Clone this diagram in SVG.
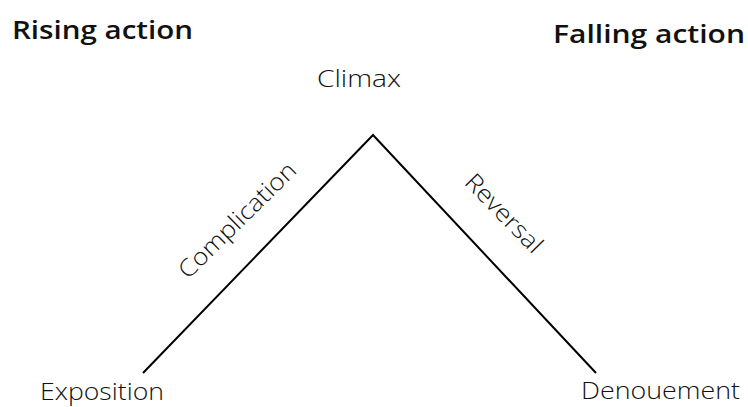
<svg xmlns="http://www.w3.org/2000/svg" width="748" height="407" viewBox="0 0 748 407">
<style>
.head{font-family:"Open Sans","DejaVu Sans",sans-serif;font-weight:600;font-size:25px;fill:#111}
.lbl{font-family:"Open Sans","DejaVu Sans",sans-serif;font-weight:300;font-size:24px;fill:#111}
.edge{fill:none;stroke:#000;stroke-width:2}
</style>
<rect width="748" height="407" fill="#fff"/>
<g id="connectors">
<polyline class="edge" points="143,373 373,135 596,373"/>
</g>
<g id="rising-action"><text class="head" x="12" y="39" textLength="181" lengthAdjust="spacingAndGlyphs">Rising action</text></g>
<g id="falling-action"><text class="head" x="553" y="43" textLength="192" lengthAdjust="spacingAndGlyphs">Falling action</text></g>
<g id="climax"><text class="lbl" x="317" y="87" textLength="84" lengthAdjust="spacingAndGlyphs">Climax</text></g>
<g id="exposition"><text class="lbl" x="40" y="400" textLength="124" lengthAdjust="spacingAndGlyphs">Exposition</text></g>
<g id="denouement"><text class="lbl" x="581" y="399" textLength="159" lengthAdjust="spacingAndGlyphs">Denouement</text></g>
<g id="complication"><text class="lbl" transform="translate(243,226) rotate(-44.5)" x="-77" y="0" textLength="154" lengthAdjust="spacingAndGlyphs">Complication</text></g>
<g id="reversal"><text class="lbl" transform="translate(498,219) rotate(45.8)" x="-50" y="0" textLength="100" lengthAdjust="spacingAndGlyphs">Reversal</text></g>
</svg>
